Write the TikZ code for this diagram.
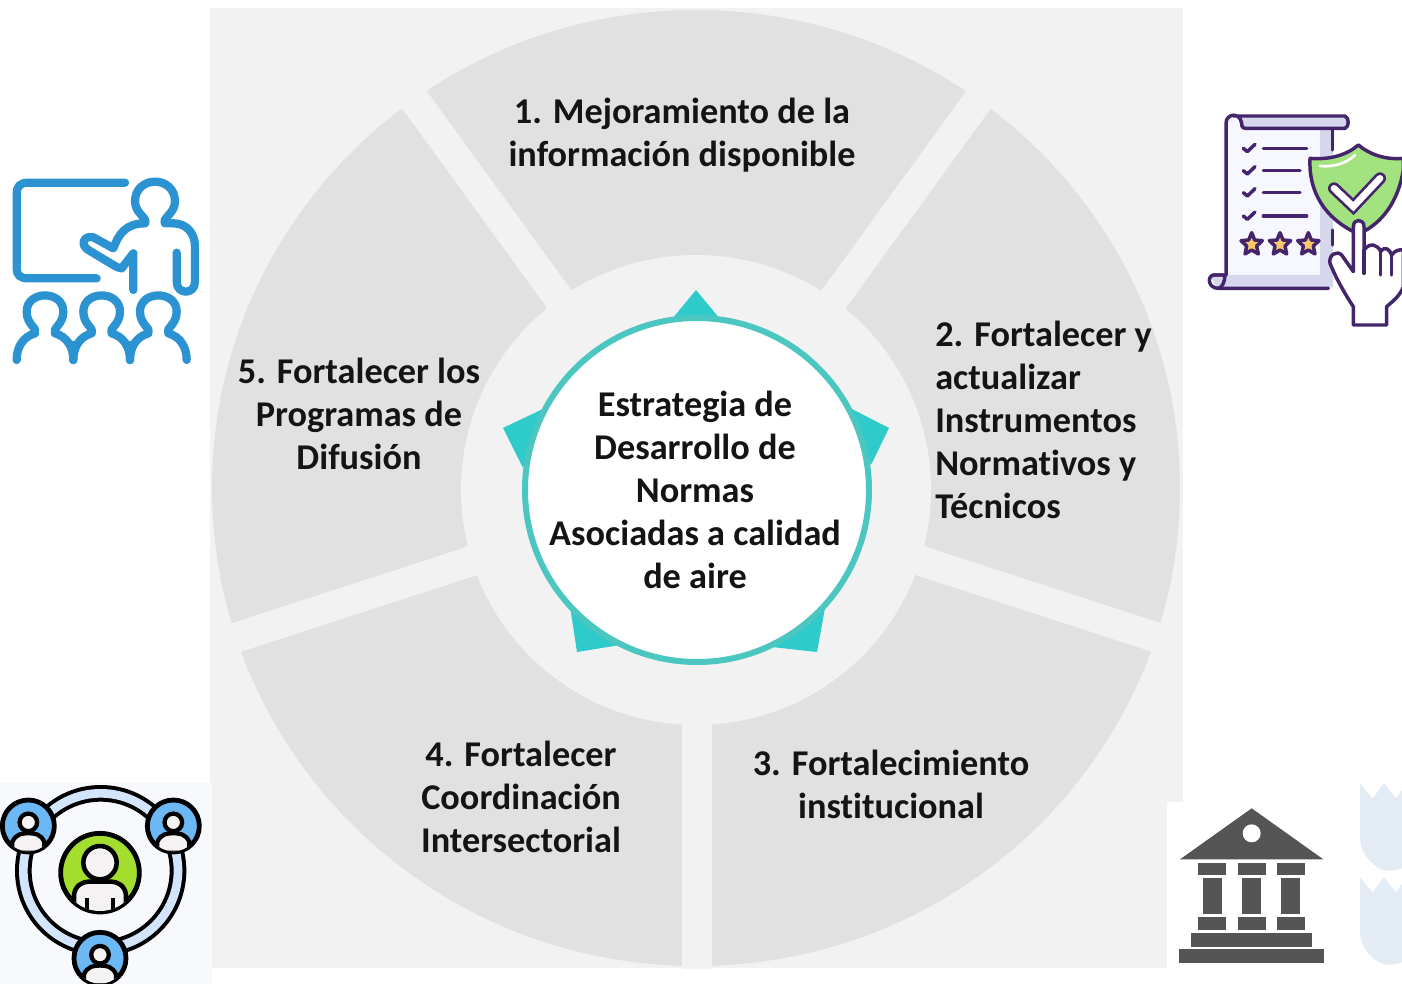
\documentclass[tikz,border=0pt]{standalone}
\usepackage{fontspec}
\setmainfont{Carlito}[Ligatures=CommonOff]
\definecolor{panel}{HTML}{F2F2F2}
\definecolor{seg}{HTML}{E1E1E1}
\definecolor{teal1}{HTML}{2FCBCB}
\definecolor{teal2}{HTML}{4CC6C0}
\definecolor{iconblue}{HTML}{2B93D1}
\definecolor{purp}{HTML}{44246B}
\definecolor{lav}{HTML}{D5D8EC}
\definecolor{paper}{HTML}{F7F7FF}
\definecolor{shield}{HTML}{A2E37F}
\definecolor{starc}{HTML}{FBC76A}
\definecolor{bank}{HTML}{555555}
\definecolor{wm}{HTML}{E3EBF5}
\definecolor{ringc}{HTML}{D3E5FC}
\definecolor{disc}{HTML}{6CB8F5}
\definecolor{lime}{HTML}{A3DE2E}
\definecolor{skin}{HTML}{F4F2F2}
\definecolor{netbg}{HTML}{F8F9FC}
\tikzset{
  lbl/.style={font=\fontsize{27.2pt}{32.25pt}\selectfont\bfseries,text=black!92,align=center,inner sep=0pt},
  tealtip/.style={fill=teal1,draw=none},
  teach/.style={draw=iconblue,line width=6.2pt,line cap=round,line join=round},
  pur/.style={draw=purp,line width=2.6pt,line cap=round,line join=round},
  bk/.style={fill=bank,draw=none},
  gapline/.style={draw=panel,line width=22.5pt}
}
\newcommand{\zperson}[3]{%
  \begin{scope}
    \clip (#1,#2) circle[radius=#3*2.45];
    \fill[skin,draw=black,line width=3.2pt] (#1-#3*1.55,#2+#3*2.6) -- (#1-#3*1.55,#2+#3*1.55) .. controls (#1-#3*1.2,#2+#3*.75) and (#1-#3*.6,#2+#3*.7) .. (#1,#2+#3*.7) .. controls (#1+#3*.6,#2+#3*.7) and (#1+#3*1.2,#2+#3*.75) .. (#1+#3*1.55,#2+#3*1.55) -- (#1+#3*1.55,#2+#3*2.6) -- cycle;
  \end{scope}
  \fill[skin,draw=black,line width=3.2pt] (#1,#2-#3*.35) circle[radius=#3*.85];
}
\begin{document}
\begin{tikzpicture}[x=0.75pt,y=-0.75pt]
\useasboundingbox (0,0) rectangle (1402,984);
\fill[white] (0,0) rectangle (1402,984);
\fill[panel] (210,8) rectangle (1183,968);
% ring
\fill[seg] (696,488) ellipse[x radius=484,y radius=478];
\begin{scope}
  \clip (210,8) rectangle (1183,968);
  \foreach \a in {54,126,198,270,342}
    \draw[gapline] (696.5,488) -- ++({-\a}:{520}) ;
\end{scope}
\fill[panel] (696,490) circle[radius=235];
% centre badge
\fill[tealtip] (696,290) -- (725,325) -- (667,325) -- cycle;
\fill[tealtip] (503,428) -- (545,408) -- (523,468) -- cycle;
\fill[tealtip] (889,428) -- (850,408) -- (871,465) -- cycle;
\fill[tealtip] (577,652) -- (570,606) -- (620,645) -- cycle;
\fill[tealtip] (817,652) -- (772,647) -- (825,608) -- cycle;
\node[circle,fill=white,draw=teal2,line width=4.5pt,minimum size=258pt,inner sep=0pt] (hub) at (697,490) {};
% labels
\node[lbl] (t0) at (695,490) {Estrategia de\\Desarrollo de\\Normas\\Asociadas a calidad\\de aire};
\node[lbl] (t1) at (682,135.5) {1. Mejoramiento de la\\información disponible};
\node[lbl,align=left,anchor=west] (t2) at (935,419.5) {2. Fortalecer y\\actualizar\\Instrumentos\\Normativos y\\Técnicos};
\node[lbl] (t3) at (891,784) {3. Fortalecimiento\\institucional};
\node[lbl] (t4) at (521,797) {4. Fortalecer\\Coordinación\\Intersectorial};
\node[lbl] (t5) at (359,414) {5. Fortalecer los\\Programas de\\Difusión};
% teacher icon
\begin{scope}[shift={(0,160)},x=0.25pt,y=-0.25pt]
  \draw[teach] (375,68) -- (85,68) .. controls (60,68) and (50,80) .. (50,100) -- (50,325) .. controls (50,345) and (60,355) .. (85,355) -- (290,355);
  \draw[teach] (400,390) -- (400,280) -- (365,325) .. controls (355,325) and (350,320) .. (340,315) -- (265,270) .. controls (240,255) and (250,225) .. (280,232) -- (340,265) .. controls (355,225) and (375,190) .. (435,190) .. controls (445,175) and (405,160) .. (405,125) .. controls (405,45) and (525,45) .. (525,125) .. controls (525,160) and (485,175) .. (495,190) -- (520,190) .. controls (560,190) and (585,220) .. (585,260) -- (585,365) .. controls (585,405) and (530,405) .. (530,365) -- (530,278);
  \foreach \px in {135,305,475}{
    \draw[teach] (\px-85,600) .. controls (\px-85,560) and (\px-65,530) .. (\px-30,520) .. controls (\px-20,505) and (\px-55,495) .. (\px-55,455) .. controls (\px-55,390) and (\px+55,390) .. (\px+55,455) .. controls (\px+55,495) and (\px+20,505) .. (\px+30,520) .. controls (\px+65,530) and (\px+85,560) .. (\px+85,600);
  }
  \draw[teach] (220,600) -- (220,555) (390,600) -- (390,555);
\end{scope}
% checklist icon
\begin{scope}[shift={(1190,90)},x=0.25pt,y=-0.25pt]
  \fill[paper] (108,85) rectangle (428,590);
  \fill[lav] (390,115) rectangle (428,590);
  \fill[lav] (60,555) -- (390,555) -- (428,520) -- (428,592) -- (80,592) -- cycle;
  \fill[lav] (150,80) -- (465,80) .. controls (478,85) and (478,110) .. (465,115) -- (155,115) -- cycle;
  \draw[pur] (108,555) -- (108,100) .. controls (108,70) and (150,65) .. (155,100) .. controls (155,110) and (158,115) .. (165,115) -- (465,115) .. controls (478,110) and (478,85) .. (465,78) -- (130,78);
  \draw[pur] (100,555) -- (70,555) .. controls (50,560) and (55,595) .. (85,595) -- (415,595);
  \draw[pur] (70,555) -- (105,555) .. controls (105,575) and (95,595) .. (85,595);
  \draw[pur] (428,120) -- (428,180) (428,420) -- (428,465);
  \foreach \yy/\xe in {175/350,242/330,308/330,378/350}{
    \draw[pur] (160,\yy) -- (172,\yy+10) -- (195,\yy-12);
    \draw[pur] (220,\yy) -- (\xe,\yy);
  }
  \foreach \sx in {185,270,355}
    \draw[pur,fill=starc] (\sx,428) -- (\sx+9,450) -- (\sx+32,452) -- (\sx+15,468) -- (\sx+20,492) -- (\sx,480) -- (\sx-20,492) -- (\sx-15,468) -- (\sx-32,452) -- (\sx-9,450) -- cycle;
  \draw[pur,fill=shield] (505,165) .. controls (470,195) and (420,210) .. (360,205) .. controls (355,300) and (400,385) .. (505,432) .. controls (580,400) and (625,330) .. (640,240) -- (640,205) .. controls (590,210) and (540,195) .. (505,165) -- cycle;
  \draw[draw=white,line width=2pt,line cap=round] (390,228) .. controls (430,232) and (470,220) .. (495,195);
  \draw[draw=purp,line width=9pt,line cap=round,line join=miter] (432,295) -- (490,350) -- (570,265);
  \draw[draw=white,line width=5pt,line cap=round,line join=miter] (432,295) -- (490,350) -- (570,265);
  \draw[pur,fill=white] (490,545) -- (490,410) .. controls (490,385) and (522,385) .. (522,410) -- (522,480) .. controls (540,455) and (565,465) .. (572,485) .. controls (585,465) and (600,480) .. (605,495) .. controls (615,480) and (630,478) .. (640,480) -- (640,590) .. controls (630,620) and (600,640) .. (590,650) -- (590,705) -- (490,705) -- (490,650) .. controls (470,620) and (440,570) .. (420,520) .. controls (415,495) and (440,480) .. (455,495) -- cycle;
  \draw[pur] (522,480) -- (522,550) (572,485) -- (572,555) (605,495) -- (605,555);
\end{scope}
% network icon
\begin{scope}[shift={(0,770)},x=0.25pt,y=-0.25pt]
  \fill[netbg] (0,40) rectangle (635,642);
  \draw[draw=black,line width=12.5pt] (302,302) circle[radius=232];
  \draw[draw=ringc,line width=6.5pt] (302,302) circle[radius=232];
  \foreach \cx/\cy in {85/168,520/168,300/565}{
    \fill[disc,draw=black,line width=3.6pt] (\cx,\cy) circle[radius=78];
    \zperson{\cx}{\cy}{31}
  }
  \fill[lime,draw=black,line width=3.6pt] (300,308) circle[radius=118];
  \begin{scope}
    \clip (300,308) circle[radius=115];
    \fill[skin,draw=black,line width=3.4pt] (222,440) -- (222,375) .. controls (225,345) and (250,335) .. (265,335) -- (335,335) .. controls (350,335) and (375,345) .. (378,375) -- (378,440) -- cycle;
    \draw[draw=black,line width=3pt] (262,385) -- (262,430) (338,385) -- (338,430);
  \end{scope}
  \fill[skin,draw=black,line width=3.4pt] (300,278) circle[radius=50];
\end{scope}
% bank icon and watermark
\fill[white] (1167,802) rectangle (1402,968);
\begin{scope}[shift={(1160,770)},x=0.25pt,y=-0.25pt]
  \foreach \wy in {0,282}
    \fill[wm] (600,40+\wy) -- (638,85+\wy) -- (672,40+\wy) -- (708,85+\wy) -- (726,60+\wy) -- (726,295+\wy) .. controls (700,305+\wy) and (670,305+\wy) .. (650,290+\wy) .. controls (620,270+\wy) and (600,240+\wy) .. (600,200+\wy) -- cycle;
  \fill[bk] (275,115) -- (60,268) -- (490,268) -- cycle;
  \fill[white] (275,190) circle[radius=27];
  \foreach \bx/\cx in {115/128,233/246,350/364}{
    \fill[bk] (\bx,278) rectangle ++(84,38);
    \fill[bk] (\cx,325) rectangle ++(57,107);
    \fill[bk] (\bx,442) rectangle ++(84,38);
  }
  \fill[bk] (94,490) rectangle (455,530);
  \fill[bk] (58,538) rectangle (491,580);
\end{scope}
\end{tikzpicture}
\end{document}
